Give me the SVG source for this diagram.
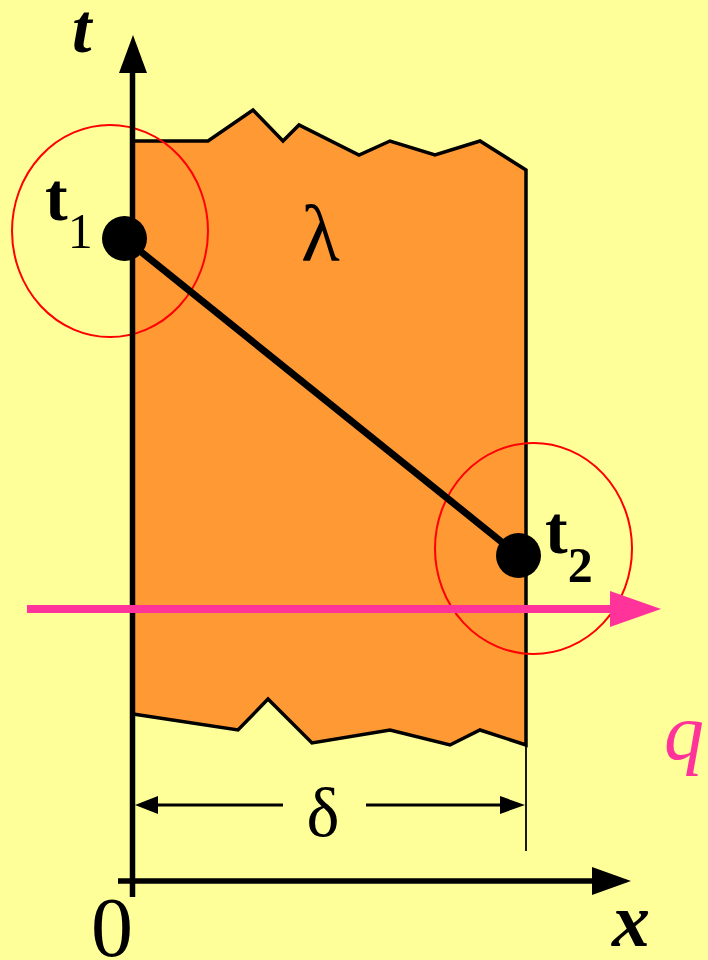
<svg xmlns="http://www.w3.org/2000/svg" width="708" height="960" viewBox="0 0 708 960">
<style>
.serif{font-family:"Liberation Serif","Times New Roman",serif;}
.bi{font-weight:bold;font-style:italic;}
.b{font-weight:bold;}
.ring{fill:none;stroke:#FF0000;stroke-width:2;}
.ax{stroke:#000;stroke-width:5.5;fill:none;}
</style>
<rect x="0" y="0" width="708" height="960" fill="#FFFF99"/>
<g id="slab">
<polygon points="133,141 208,141 253,110 283,141 299,125 359,155 390,141 435,155 480,141 526,170 526,745 480,730 450,745 390,730 312,743 268,699 238,730 133,714" fill="#FF9933"/>
<polyline points="133,141 208,141 253,110 283,141 299,125 359,155 390,141 435,155 480,141 526,170 526,745 480,730 450,745 390,730 312,743 268,699 238,730 133,714" fill="none" stroke="#000" stroke-width="3.5" stroke-linejoin="miter"/>
<line x1="526" y1="745" x2="526" y2="851" stroke="#000" stroke-width="1.8"/>
</g>
<g id="circle1"><ellipse class="ring" cx="110" cy="231" rx="98" ry="106"/></g>
<g id="circle2"><ellipse class="ring" cx="533.5" cy="548.5" rx="98.5" ry="105.5"/></g>
<g id="axes">
<line class="ax" x1="132.5" y1="70" x2="132.5" y2="897"/>
<polygon points="133,35 119,73 147,73" fill="#000"/>
<line class="ax" x1="118" y1="881" x2="595" y2="881"/>
<polygon points="631,881 592,867 592,895" fill="#000"/>
</g>
<g id="connectors">
<line x1="124.5" y1="238.5" x2="518.5" y2="555.5" stroke="#000" stroke-width="7"/>
<line x1="27" y1="609" x2="615" y2="609" stroke="#FF3399" stroke-width="8"/>
<polygon points="661,609 610,591 610,627" fill="#FF3399"/>
<line x1="150" y1="805" x2="283" y2="805" stroke="#000" stroke-width="3"/>
<line x1="366" y1="805" x2="505" y2="805" stroke="#000" stroke-width="3"/>
<polygon points="135,805 158,796 158,814" fill="#000"/>
<polygon points="525,805 500,796 500,814" fill="#000"/>
</g>
<g id="t1">
<circle cx="124.5" cy="238.5" r="22.5" fill="#000"/>
<text class="serif b" x="45" y="220" font-size="68">t<tspan font-size="50" dy="28" font-weight="normal">1</tspan></text>
</g>
<g id="t2">
<circle cx="518.5" cy="555.5" r="22.5" fill="#000"/>
<text class="serif b" x="545" y="553" font-size="68">t<tspan font-size="50" dy="29">2</tspan></text>
</g>
<g id="labels">
<text class="serif" x="301" y="261" font-size="80">λ</text>
<text class="serif" x="323" y="836" font-size="70" text-anchor="middle">δ</text>
<text class="serif" x="112" y="956" font-size="84" text-anchor="middle">0</text>
<text class="serif bi" x="72" y="52" font-size="70">t</text>
<text class="serif bi" x="612" y="946" font-size="76">x</text>
<text class="serif" x="664" y="759" font-size="80" font-style="italic" fill="#FF3399">q</text>
</g>
</svg>
